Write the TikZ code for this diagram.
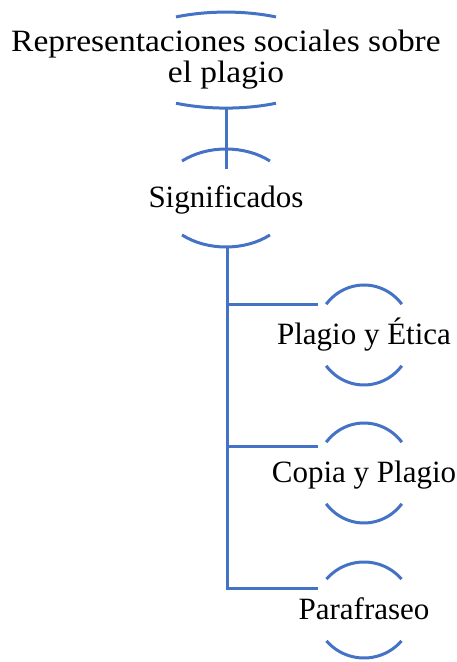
\documentclass[tikz,border=0pt]{standalone}
\usepackage{fontspec}
\setmainfont{Liberation Serif}
\usepackage{xcolor}
\definecolor{azul}{HTML}{4472C4}

\begin{document}
\begin{tikzpicture}[x=1pt,y=1pt]
    \tikzstyle{linea}=[draw=azul,line width=3pt]
    \tikzstyle{every node}=[inner sep=0pt,font=\fontsize{31}{31}\selectfont]
    \tikzstyle{hoja}=[text height=20pt,text depth=0pt]
    \useasboundingbox (0,0) rectangle (457,662);
    \node[anchor=base,align=center,font=\fontsize{31}{31}\selectfont\addfontfeature{FakeStretch=1.08}] (root) at (226,579) {Representaciones sociales sobre\\el plagio};
    \node[hoja] (sig) at (226,464) {Significados};
    \node[hoja] (etica) at (364,327) {Plagio y Ética};
    \node[hoja] (copia) at (364,189) {Copia y Plagio};
    \node[hoja] (para) at (364,52) {Parafraseo};
    % arcos arriba y abajo de cada texto
    \foreach \n/\a/\b/\t in {root/114/48/64, sig/67/49/49, etica/48/50/38, copia/48/50/38, para/49/48/40} {
      \draw[linea] (\n.center) ++(\t:\a pt and \b pt) arc[start angle=\t,end angle=180-\t,x radius=\a pt,y radius=\b pt];
      \draw[linea] (\n.center) ++(180+\t:\a pt and \b pt) arc[start angle=180+\t,end angle=360-\t,x radius=\a pt,y radius=\b pt];
    }
    \draw[linea] ([yshift=-48pt]root.center) -- ([yshift=29pt]sig.center);
    \foreach \n/\d in {etica/30, copia/26, para/21}
      \draw[linea] ([xshift=1pt,yshift=-49pt]sig.center) |- ([xshift=-46pt,yshift=\d pt]\n.center);
\end{tikzpicture}
\end{document}
